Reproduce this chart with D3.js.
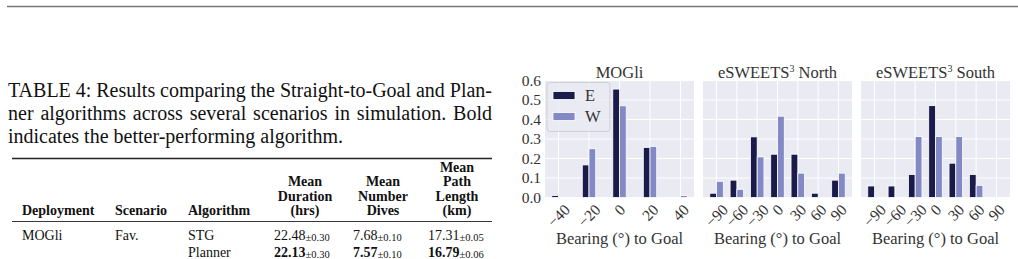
<!DOCTYPE html>
<html>
<head>
<meta charset="utf-8">
<script src="https://cdn.jsdelivr.net/npm/d3@7"></script>
<style>
  body { margin: 0; background: #fff; }
  svg { display: block; }
</style>
</head>
<body>
<script>
const WIDTH = 1018;
const HEIGHT = 259;

// --- chart data ---
const panelTitles = ['MOGli', 'eSWEETS', 'eSWEETS'];
const panelSuffix = ['', ' North', ' South'];
const mogliBearings = [-40, -20, 0, 20, 40];
const mogliE = [0.01, 0.167, 0.556, 0.257, 0];
const mogliW = [0, 0.25, 0.47, 0.262, 0.01];
const eswBearings = [-90, -60, -30, 0, 30, 60, 90];
const northE = [0.022, 0.089, 0.311, 0.222, 0.222, 0.022, 0.089];
const northW = [0.083, 0.042, 0.208, 0.417, 0.125, 0, 0.125];
const southE = [0.059, 0.059, 0.118, 0.471, 0.176, 0.118, 0];
const southW = [0, 0, 0.3125, 0.3125, 0.3125, 0.0625, 0];
const yTicks = [0, 0.1, 0.2, 0.3, 0.4, 0.5, 0.6];
const seriesNames = ['E', 'W'];
const barWidths = [4.4, 10, 10];   // bar width in degrees per panel

// --- table data ---
const captionLines = [
    'TABLE 4: Results comparing the Straight-to-Goal and Plan-',
    'ner algorithms across several scenarios in simulation. Bold',
    'indicates the better-performing algorithm.'
];
const textHeaders = ['Deployment', 'Scenario', 'Algorithm'];
const numHeaders = [['Mean', 'Duration', '(hrs)'], ['Mean', 'Number', 'Dives'], ['Mean', 'Path', 'Length', '(km)']];
const deployments = ['MOGli', ''];
const scenarios = ['Fav.', ''];
const algorithms = ['STG', 'Planner'];
const durations = [22.48, 22.13];
const durationErr = [0.30, 0.30];
const dives = [7.68, 7.57];
const divesErr = [0.10, 0.10];
const pathLengths = [17.31, 16.79];
const pathErr = [0.05, 0.06];

const colorE = '#1a1b4b';
const colorW = '#8389c5';
const serif = '"Liberation Serif", "Times New Roman", serif';

const svg = d3.select('body')
    .append('svg')
    .attr('width', WIDTH)
    .attr('height', HEIGHT)
    .attr('viewBox', '0 0 ' + WIDTH + ' ' + HEIGHT);

// page rule
svg.append('line')
    .attr('x1', 7).attr('x2', WIDTH)
    .attr('y1', 6.5).attr('y2', 6.5)
    .attr('stroke', '#777').attr('stroke-width', 1.6);

// caption, first two lines justified
const capWidth = 484;
captionLines.forEach(function(line, i) {
    const t = svg.append('text')
        .attr('x', 8)
        .attr('y', 97 + i * 23)
        .attr('font-family', serif)
        .attr('font-size', 20)
        .attr('fill', '#111')
        .text(line);
    if (i < 2) {
        const natural = t.node().getComputedTextLength();
        const spaces = line.split(' ').length - 1;
        t.attr('word-spacing', (capWidth - natural) / spaces);
    }
});

// table
const tbl = svg.append('g').attr('font-family', serif).attr('fill', '#111');
tbl.append('line').attr('x1', 12).attr('x2', 492).attr('y1', 158.5).attr('y2', 158.5)
    .attr('stroke', '#222').attr('stroke-width', 1.3);
tbl.append('line').attr('x1', 12).attr('x2', 492).attr('y1', 221.5).attr('y2', 221.5)
    .attr('stroke', '#222').attr('stroke-width', 0.9);

const textColX = [22, 115, 188];
const numColCenter = [305, 383, 457];
const numColLeft = [274, 353, 428];
const headerBase = 215;
const lineGap = 14.5;
const rowBase = [239.5, 256.5];

textHeaders.forEach(function(h, i) {
    tbl.append('text').attr('x', textColX[i]).attr('y', headerBase)
        .attr('font-size', 14).attr('font-weight', 'bold').text(h);
});
numHeaders.forEach(function(lines, i) {
    lines.forEach(function(l, j) {
        tbl.append('text')
            .attr('x', numColCenter[i])
            .attr('y', headerBase - (lines.length - 1 - j) * lineGap)
            .attr('text-anchor', 'middle')
            .attr('font-size', 14).attr('font-weight', 'bold').text(l);
    });
});

[deployments, scenarios, algorithms].forEach(function(col, i) {
    col.forEach(function(v, r) {
        tbl.append('text').attr('x', textColX[i]).attr('y', rowBase[r])
            .attr('font-size', 14).text(v);
    });
});

[[durations, durationErr], [dives, divesErr], [pathLengths, pathErr]].forEach(function(pair, i) {
    const best = d3.min(pair[0]);
    pair[0].forEach(function(v, r) {
        const t = tbl.append('text').attr('x', numColLeft[i]).attr('y', rowBase[r]).attr('font-size', 14);
        t.append('tspan').attr('font-weight', v === best ? 'bold' : 'normal').text(v.toFixed(2));
        t.append('tspan').attr('font-size', 10.5).attr('dy', 1.5).text('\u00b1' + pair[1][r].toFixed(2));
    });
});

// --- bar panels ---
const panels = [
    { bearings: mogliBearings, e: mogliE, w: mogliW },
    { bearings: eswBearings, e: northE, w: northW },
    { bearings: eswBearings, e: southE, w: southW }
];
const panelLeft = [545, 703, 861];
const panelW = 149;
const plotTop = 80.5;
const plotBottom = 197.5;

const y = d3.scaleLinear().domain([0, 0.6]).range([plotBottom, plotTop]);

panels.forEach(function(p, pi) {
    const bw = barWidths[pi];
    const lo = d3.min(p.bearings) - bw;
    const hi = d3.max(p.bearings) + bw;
    const pad = (hi - lo) * 0.05;
    const x = d3.scaleLinear().domain([lo - pad, hi + pad])
        .range([panelLeft[pi], panelLeft[pi] + panelW]);

    const g = svg.append('g');
    g.append('rect')
        .attr('x', panelLeft[pi]).attr('y', plotTop)
        .attr('width', panelW).attr('height', plotBottom - plotTop)
        .attr('fill', '#eaeaf2');

    g.selectAll('.hg').data(yTicks).enter().append('line')
        .attr('x1', panelLeft[pi]).attr('x2', panelLeft[pi] + panelW)
        .attr('y1', function(d) { return y(d); })
        .attr('y2', function(d) { return y(d); })
        .attr('stroke', '#fff').attr('stroke-width', 1);
    g.selectAll('.vg').data(p.bearings).enter().append('line')
        .attr('x1', function(d) { return x(d); })
        .attr('x2', function(d) { return x(d); })
        .attr('y1', plotTop).attr('y2', plotBottom)
        .attr('stroke', '#fff').attr('stroke-width', 1);

    const bars = [];
    p.bearings.forEach(function(b, i) {
        bars.push({ x0: b - bw, v: p.e[i], c: colorE });
        bars.push({ x0: b, v: p.w[i], c: colorW });
    });
    g.selectAll('.bar').data(bars.filter(function(d) { return d.v > 0; })).enter().append('rect')
        .attr('x', function(d) { return x(d.x0); })
        .attr('width', function(d) { return x(d.x0 + bw) - x(d.x0); })
        .attr('y', function(d) { return y(d.v); })
        .attr('height', function(d) { return y(0) - y(d.v); })
        .attr('fill', function(d) { return d.c; })
        .attr('stroke', '#fff').attr('stroke-width', 0.8);

    // title
    const title = g.append('text')
        .attr('x', panelLeft[pi] + panelW / 2).attr('y', 77.5)
        .attr('text-anchor', 'middle')
        .attr('font-family', serif).attr('font-size', 16.5).attr('fill', '#333')
        .text(panelTitles[pi]);
    if (panelSuffix[pi]) {
        title.append('tspan').attr('font-size', 10).attr('dy', -6).text('3');
        title.append('tspan').attr('dy', 6).text(panelSuffix[pi]);
    }

    // x tick labels rotated 45
    p.bearings.forEach(function(b) {
        const label = b < 0 ? '\u2212' + Math.abs(b) : String(b);
        const t = g.append('text')
            .attr('font-family', serif).attr('font-size', 15.5).attr('fill', '#333')
            .attr('text-anchor', 'middle')
            .attr('dominant-baseline', 'central')
            .text(label);
        const L = t.node().getComputedTextLength();
        const half = (L + 11) / (2 * Math.SQRT2);
        const cx = x(b);
        const cy = 203 + half;
        t.attr('x', cx).attr('y', cy)
            .attr('transform', 'rotate(-45,' + cx + ',' + cy + ')');
    });

    // x label
    g.append('text')
        .attr('x', panelLeft[pi] + panelW / 2).attr('y', 244)
        .attr('text-anchor', 'middle')
        .attr('font-family', serif).attr('font-size', 16.5).attr('fill', '#333')
        .text('Bearing (\u00b0) to Goal');

    if (pi === 0) {
        g.selectAll('.yl').data(yTicks).enter().append('text')
            .attr('x', panelLeft[pi] - 4)
            .attr('y', function(d) { return y(d); })
            .attr('dy', '0.35em')
            .attr('text-anchor', 'end')
            .attr('font-family', serif).attr('font-size', 15.5).attr('fill', '#333')
            .text(function(d) { return d.toFixed(1); });

        // legend
        const lg = g.append('g');
        lg.append('rect')
            .attr('x', 547).attr('y', 82.5).attr('width', 63).attr('height', 49)
            .attr('rx', 3)
            .attr('fill', '#eaeaf2').attr('fill-opacity', 0.8)
            .attr('stroke', '#cfcfd6').attr('stroke-width', 1);
        seriesNames.forEach(function(s, i) {
            lg.append('rect')
                .attr('x', 553).attr('y', 91.5 + i * 21)
                .attr('width', 22).attr('height', 8)
                .attr('fill', i === 0 ? colorE : colorW)
                .attr('stroke', '#fff').attr('stroke-width', 0.8);
            lg.append('text')
                .attr('x', 585).attr('y', 100.5 + i * 21)
                .attr('font-family', serif).attr('font-size', 16.5).attr('fill', '#333')
                .text(s);
        });
    }
});
</script>
</body>
</html>
